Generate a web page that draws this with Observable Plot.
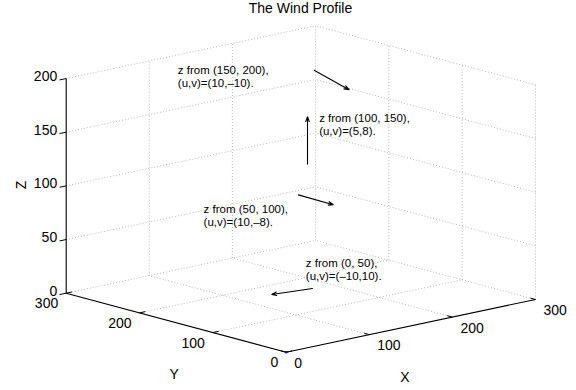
<!DOCTYPE html>
<html><head><meta charset="utf-8">
<script src="https://cdn.jsdelivr.net/npm/d3@7"></script>
<script src="https://cdn.jsdelivr.net/npm/@observablehq/plot@0.6"></script>
<style>body{margin:0;background:#fff} #chart svg{display:block}</style>
</head><body><div id="chart"></div>
<script>
// ---- data ----
const title = "The Wind Profile";
const xTicks = [0, 100, 200, 300];
const yTicks = [0, 100, 200, 300];
const zTicks = [0, 50, 100, 150, 200];
const zLow  = [0, 50, 100, 150];
const zHigh = [50, 100, 150, 200];
const windU = [-10, 10, 5, 10];
const windV = [10, -8, 8, -10];
// annotation arrows and notes, placed in the vertical plane y = planeY
const planeY = 150;
const arrowX0 = [164, 147, 158, 166];
const arrowZ0 = [5, 95, 122, 208];
const arrowX1 = [115, 189, 158, 208];
const arrowZ1 = [7.5, 79, 166, 183];
const noteX = [156, 33, 172, 2];
const noteZ = [24, 95, 157, 229];

// ---- orthographic 3D view ----
const AX = 0.831, AY = -0.7333, BX = 0.1757, BY = 0.1967, BZ = 1.0735;
const P = (x, y, z) => ({px: AX * x + AY * y, py: BX * x + BY * y + BZ * z});
const seg = (a, b) => { const p = P(...a), q = P(...b); return {x1: p.px, y1: p.py, x2: q.px, y2: q.py}; };
const xMax = d3.max(xTicks), yMax = d3.max(yTicks), zMax = d3.max(zTicks);

const grid = [];
xTicks.filter(v => v > 0).forEach(v => { grid.push(seg([v, 0, 0], [v, yMax, 0])); grid.push(seg([v, yMax, 0], [v, yMax, zMax])); });
yTicks.filter(v => v > 0).forEach(v => grid.push(seg([0, v, 0], [xMax, v, 0])));
yTicks.filter(v => v < yMax).forEach(v => grid.push(seg([xMax, v, 0], [xMax, v, zMax])));
zTicks.filter(v => v > 0).forEach(v => { grid.push(seg([0, yMax, v], [xMax, yMax, v])); grid.push(seg([xMax, 0, v], [xMax, yMax, v])); });

const axesLines = [seg([0,0,0],[xMax,0,0]), seg([0,0,0],[0,yMax,0]), seg([0,yMax,0],[0,yMax,zMax])];
const tickLen = 7;
const tickLines = [
  ...xTicks.map(v => seg([v,0,0],[v,tickLen,0])),
  ...yTicks.map(v => seg([0,v,0],[tickLen,v,0])),
  ...zTicks.map(v => seg([0,yMax,v],[-tickLen - 1,yMax,v]))
];
const xLab = xTicks.map(v => ({...P(v,0,0), t: String(v)}));
const yLab = yTicks.map(v => ({...P(0,v,0), t: String(v)}));
const zLab = zTicks.map(v => ({...P(0,yMax,v), t: String(v)}));

const fmt = n => String(n).replace("-", "\u2013");
const arrows = zLow.map((_, i) => seg([arrowX0[i], planeY, arrowZ0[i]], [arrowX1[i], planeY, arrowZ1[i]]));
const notes = zLow.map((lo, i) => ({...P(noteX[i], planeY, noteZ[i]),
  t: `z from (${lo}, ${zHigh[i]}),\n(u,v)=(${fmt(windU[i])},${fmt(windV[i])}).`}));

const font = "Liberation Sans, Arial, Helvetica, sans-serif";
const cLeft = P(0, yMax, 0), cRight = P(xMax, 0, 0), cTop = P(xMax, yMax, zMax);

const chart = Plot.plot({
  width: 576, height: 390, margin: 0,
  x: {domain: [cLeft.px, cRight.px], range: [65.7, 535], axis: null},
  y: {domain: [0, cTop.py], range: [351.7, 25.3], axis: null},
  style: {fontFamily: font, background: "white", color: "black"},
  marks: [
    Plot.link(grid, {x1: "x1", y1: "y1", x2: "x2", y2: "y2", stroke: "#ababab", strokeWidth: 0.85, strokeDasharray: "1,2"}),
    Plot.link(axesLines, {x1: "x1", y1: "y1", x2: "x2", y2: "y2", stroke: "black", strokeWidth: 1.1}),
    Plot.link(tickLines, {x1: "x1", y1: "y1", x2: "x2", y2: "y2", stroke: "black", strokeWidth: 1}),
    Plot.dot([P(0,0,0)], {x: "px", y: "py", r: 1.3, fill: "blue", stroke: "none"}),
    Plot.text(xLab, {x: "px", y: "py", text: "t", textAnchor: "start", dx: 8, dy: 11, fontSize: 14, fontFamily: font}),
    Plot.text(yLab, {x: "px", y: "py", text: "t", textAnchor: "end", dx: -8, dy: 10.5, fontSize: 14, fontFamily: font}),
    Plot.text(zLab, {x: "px", y: "py", text: "t", textAnchor: "end", dx: -9, dy: -2, fontSize: 14, fontFamily: font}),
    Plot.text([P(xMax/2, 0, 0)], {x: "px", y: "py", text: () => "X", dx: -6, dy: 52, fontSize: 14, fontFamily: font}),
    Plot.text([P(0, yMax/2, 0)], {x: "px", y: "py", text: () => "Y", dx: -2, dy: 52, fontSize: 14, fontFamily: font}),
    Plot.text([P(0, yMax, zMax/2)], {x: "px", y: "py", text: () => "Z", dx: -45, dy: -1, rotate: -90, fontSize: 14, fontFamily: font}),
    Plot.arrow(arrows, {x1: "x1", y1: "y1", x2: "x2", y2: "y2", stroke: "black", strokeWidth: 1.1, headLength: 7, headAngle: 40}),
    Plot.text(notes, {x: "px", y: "py", text: "t", textAnchor: "start", lineAnchor: "middle", lineHeight: 1.13, fontSize: 11.5, fontFamily: font}),
    Plot.text([title], {frameAnchor: "top", text: d => d, dx: 12, dy: 3, fontSize: 14, fontFamily: font})
  ]
});
document.getElementById("chart").appendChild(chart);
</script>
</body></html>
